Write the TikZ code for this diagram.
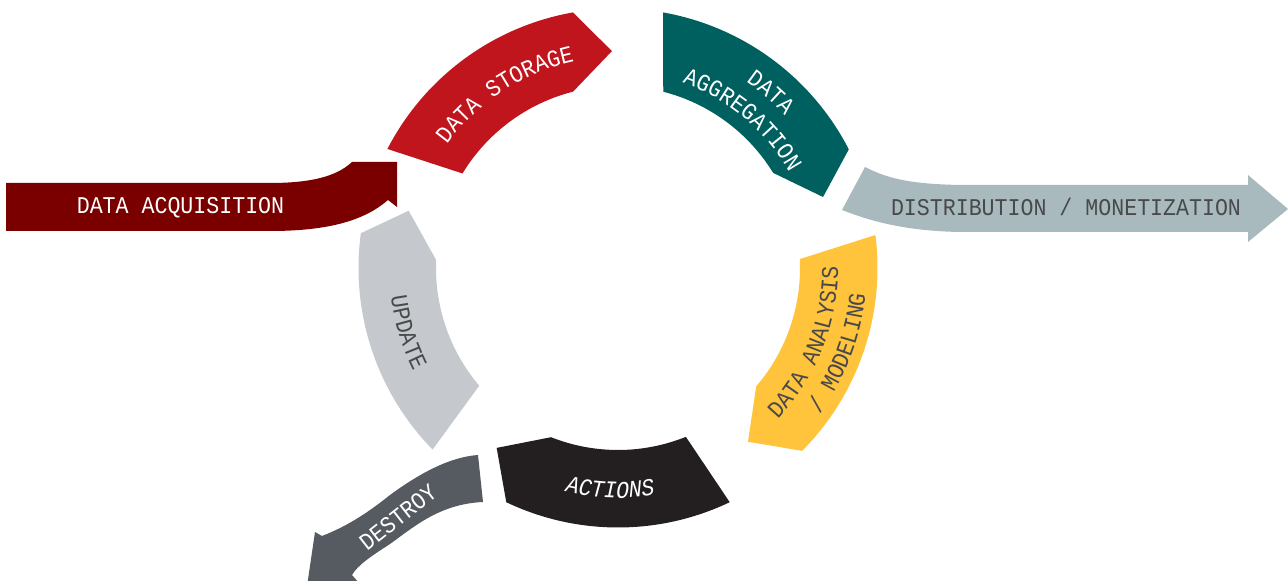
\documentclass[tikz,border=0pt]{standalone}
\usepackage{fontspec}
\newfontfamily\dfont[FakeStretch=0.9]{Liberation Mono}
\usetikzlibrary{decorations.text}
\definecolor{acqc}{HTML}{7A0000}
\definecolor{storc}{HTML}{C1151E}
\definecolor{aggrc}{HTML}{006060}
\definecolor{distc}{HTML}{A9BABE}
\definecolor{anac}{HTML}{FFC33C}
\definecolor{actc}{HTML}{231F20}
\definecolor{updc}{HTML}{C5C8CC}
\definecolor{desc}{HTML}{565B62}
\definecolor{txtg}{HTML}{48494B}
\newcommand\wtxt{\dfont\fontsize{24}{24}\selectfont\color{white}}
\newcommand\gtxt{\dfont\fontsize{24}{24}\selectfont\color{txtg}}
\newcommand\witxt{\dfont\itshape\fontsize{24}{24}\selectfont\color{white}}
% ring segment: colour, outer tail angle, outer head angle, tip angle, inner head angle, inner tail angle
\newcommand\cycseg[6]{\fill[#1] (#2:259.5pt) arc[start angle=#2, end angle=#3, radius=259.5pt] -- (#4:217pt) -- (#5:182pt) arc[start angle=#5, end angle=#6, radius=182pt] -- cycle;}
\tikzset{
  lbl/.style={font=\dfont\fontsize{24}{24}\selectfont, inner sep=0pt},
  arctext/.style={decorate, decoration={text along path, text align=center, text={#1}}},
}
\begin{document}
\begin{tikzpicture}[x=1pt,y=1pt]
\useasboundingbox (0,0) rectangle (1288,581);
\clip (0,0) rectangle (1288,581);

% data acquisition arrow
\fill[acqc] (6,398) -- (270,398) .. controls (320,398) and (340,408) .. (352,419) -- (397,419) -- (397,374) -- (388,381) .. controls (365,361) and (330,350) .. (270,350) -- (6,350) -- cycle;
\node[lbl, text=white] (acqtext) at (180.5,373.5) {DATA ACQUISITION};

% distribution arrow
\fill[distc] (842,371) -- (865,414) .. controls (890,401) and (915,397) .. (960,396) -- (1248,396) -- (1248,406) -- (1288,372) -- (1248,339) -- (1248,349) -- (960,349) .. controls (905,350) and (870,360) .. (842,371) -- cycle;
\node[lbl, text=txtg] (disttext) at (1066,374.5) {DISTRIBUTION / MONETIZATION};

% destroy arrow
\fill[desc] (478,126) .. controls (450,124) and (420,108) .. (390,86) .. controls (365,66) and (345,54) .. (322,45) -- (315,49) -- (306,-12) -- (366,-10) -- (352,6) .. controls (358,16) and (370,24) .. (390,37) .. controls (415,55) and (440,77) .. (483,79) -- cycle;
\node[lbl, text=white, rotate=38] (destext) at (398,64) {DESTROY};

\begin{scope}[shift={(618,313)}]
  \cycseg{storc}{152.7}{100}{91.6}{104.3}{148.7}
  \cycseg{aggrc}{80}{27.2}{19.1}{31.5}{75.6}
  \cycseg{anac}{7.3}{-44.8}{-53.2}{-40.6}{2.8}
  \cycseg{actc}{-64.5}{-115.5}{-124}{-111.6}{-68.1}
  \cycseg{updc}{224.4}{172.3}{164.7}{177.5}{220.3}

  \path[arctext={|\wtxt|DATA STORAGE}] (149:211pt) arc[start angle=149, end angle=97, radius=211pt];
  \path[arctext={|\wtxt|DATA}] (75:226pt) arc[start angle=75, end angle=23, radius=226pt];
  \path[arctext={|\wtxt|AGGREGATION}] (76:196pt) arc[start angle=76, end angle=24, radius=196pt];
  \path[arctext={|\gtxt|DATA ANALYSIS}] (-47.5:220pt) arc[start angle=-47.5, end angle=4.5, radius=220pt];
  \path[arctext={|\gtxt|/ MODELING}] (-47:249pt) arc[start angle=-47, end angle=5, radius=249pt];
  \path[arctext={|\witxt|ACTIONS}] (-122:230pt) arc[start angle=-122, end angle=-62, radius=230pt];
  \path[arctext={|\gtxt|UPDATE}] (170:229pt) arc[start angle=170, end angle=224, radius=229pt];
\end{scope}
\end{tikzpicture}
\end{document}
